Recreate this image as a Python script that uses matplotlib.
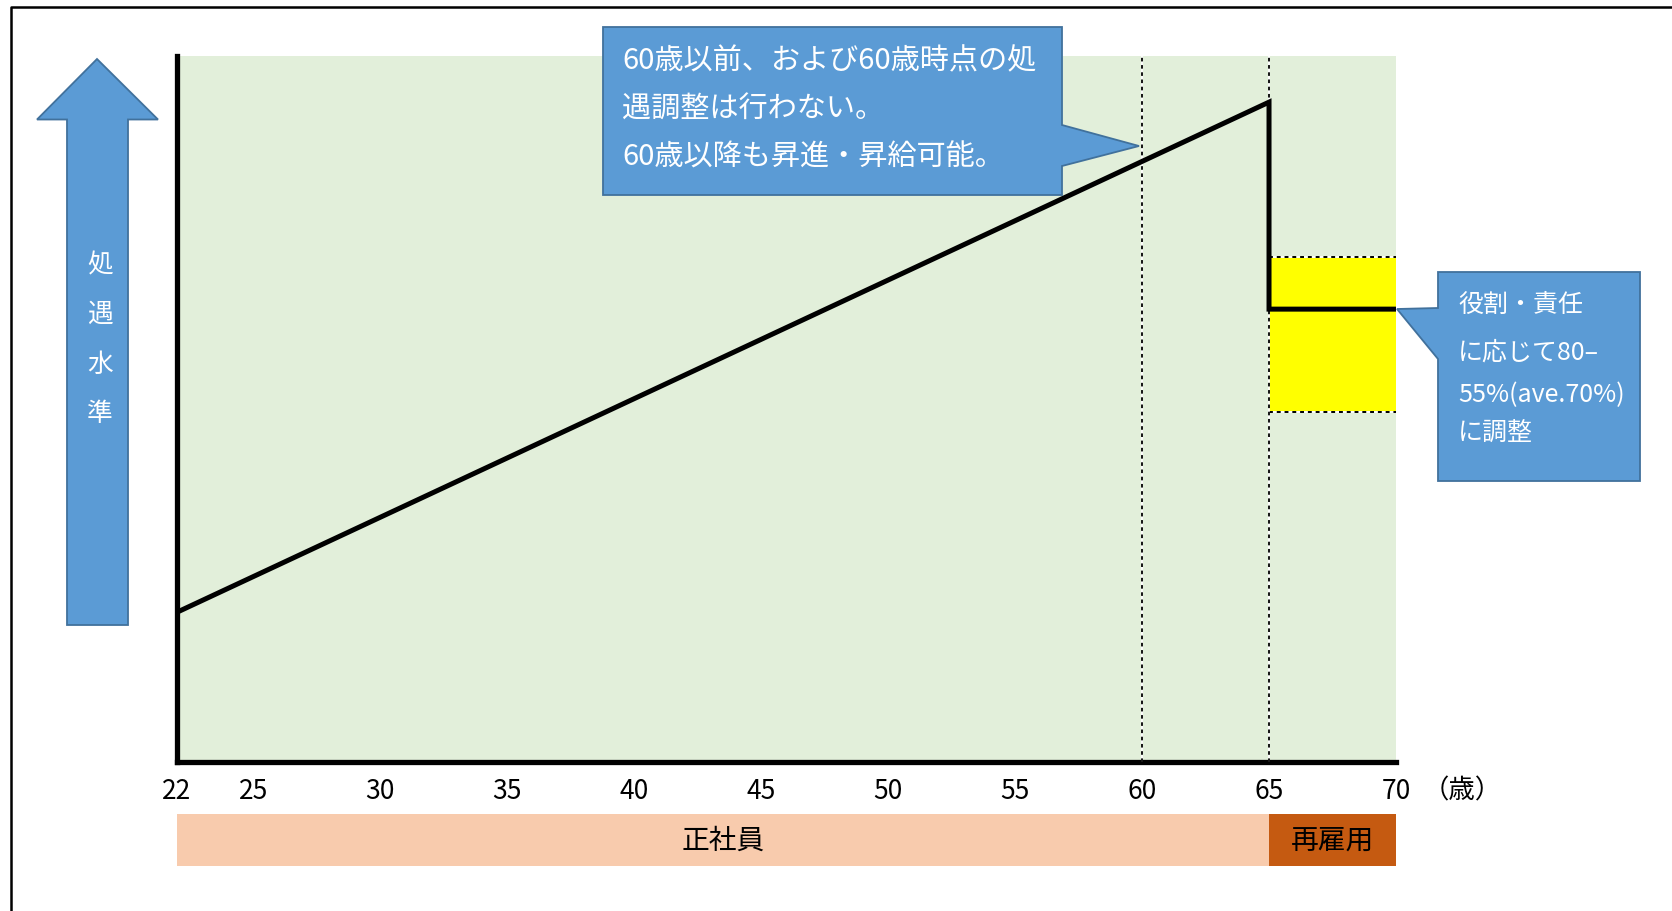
import matplotlib
matplotlib.use("Agg")
import matplotlib.pyplot as plt
from matplotlib.patches import Polygon, Rectangle

plt.rcParams['font.family'] = ['Noto Sans CJK JP', 'DejaVu Sans']

# ---- data ----
ages = [22, 65, 65, 70]
level = [21.2, 93.4, 64.1, 64.1]
band_low, band_high = 49.6, 71.5
band_ages = [65, 70]
marker_ages = [60, 65]
tick_ages = [22, 25, 30, 35, 40, 45, 50, 55, 60, 65, 70]
tick_labels = [str(a) for a in tick_ages]
seg_labels = ['正社員', '再雇用']
seg_start = [22, 65]
seg_end = [65, 70]
seg_colors = ['#F8CBAD', '#C55A11']
callout1 = ['60歳以前、および60歳時点の処', '遇調整は行わない。', '60歳以降も昇進・昇給可能。']
callout2 = ['役割・責任', 'に応じて80‒', '55%(ave.70%)', 'に調整']
ylabel_chars = ['処', '遇', '水', '準']

W, H = 1672, 912
fig = plt.figure(figsize=(W / 100, H / 100), dpi=100)
fig.patch.set_facecolor('white')

def fx(px):
    return px / W

def fy(py):
    return 1 - py / H

# main axes
left, right, top, bottom = 177, 1396, 56.5, 763
ax = fig.add_axes([fx(left), fy(bottom), (right - left) / W, (bottom - top) / H])
ax.set_facecolor('#E2EFDA')
ax.set_xlim(22, 70)
ax.set_ylim(0, 100)
for s in ['top', 'right']:
    ax.spines[s].set_visible(False)
for s in ['left', 'bottom']:
    ax.spines[s].set_linewidth(3.8)
    ax.spines[s].set_color('black')
ax.set_yticks([])
ax.set_xticks(tick_ages)
ax.set_xticklabels(tick_labels, fontsize=19)
ax.tick_params(axis='x', length=0, pad=10.5, colors='black')

# band
ax.add_patch(Rectangle((band_ages[0], band_low), band_ages[1] - band_ages[0],
                       band_high - band_low, facecolor='#FFFF00', edgecolor='none', zorder=2))
for yb in [band_low, band_high]:
    ax.plot(band_ages, [yb, yb], color='white', lw=1.4, zorder=3)
    ax.plot(band_ages, [yb, yb], color='black', lw=1.4, ls=(0, (2, 2)), zorder=3)

# marker lines
for m in marker_ages:
    ax.axvline(m, color='white', lw=1.3, zorder=3)
    ax.axvline(m, color='black', lw=1.3, ls=(0, (2, 2)), zorder=3)

# salary line
ax.plot(ages, level, color='black', lw=3.6, zorder=4, solid_joinstyle='miter')

# bottom segment bar
axb = fig.add_axes([fx(left), fy(867), (right - left) / W, 52 / H], sharex=ax)
axb.set_ylim(0, 1)
axb.axis('off')
for lab, s0, s1, c in zip(seg_labels, seg_start, seg_end, seg_colors):
    axb.add_patch(Rectangle((s0, 0), s1 - s0, 1, facecolor=c, edgecolor='none'))
    axb.text((s0 + s1) / 2, 0.5, lab, ha='center', va='center', fontsize=20, color='black')

# overlay in pixel coords
ov = fig.add_axes([0, 0, 1, 1])
ov.set_xlim(0, W)
ov.set_ylim(H, 0)
ov.axis('off')
ov.patch.set_alpha(0)

# outer border
ov.plot([11, 11, W + 5], [H + 5, 7.5, 7.5], color='black', lw=1.8)

# unit label
ov.text(1462, 791, '（歳）', ha='center', va='center', fontsize=19, color='black')

blue = '#5B9BD5'
edge = '#41719C'
# arrow
arrow = [(67, 626), (67, 120.5), (37, 120.5), (97, 60), (158, 120.5), (128, 120.5), (128, 626)]
ov.add_patch(Polygon(arrow, closed=True, facecolor=blue, edgecolor=edge, lw=1.3))
for ch, yy in zip(ylabel_chars, [265, 315, 365, 414]):
    ov.text(100, yy, ch, ha='center', va='center', fontsize=18.5, color='white')

# callout 1
c1 = [(603, 28), (1062, 28), (1062, 126), (1139, 147), (1062, 167), (1062, 196), (603, 196)]
ov.add_patch(Polygon(c1, closed=True, facecolor=blue, edgecolor=edge, lw=1.3))
for t, yy in zip(callout1, [61, 110, 158]):
    ov.text(622, yy, t, ha='left', va='center', fontsize=21, color='white')

# callout 2
c2 = [(1438, 273), (1640, 273), (1640, 482), (1438, 482), (1438, 360), (1397, 310), (1438, 309)]
ov.add_patch(Polygon(c2, closed=True, facecolor=blue, edgecolor=edge, lw=1.3))
for t, yy in zip(callout2, [305, 353, 395, 433]):
    ov.text(1458, yy, t, ha='left', va='center', fontsize=18, color='white')

fig.savefig('out.png', dpi=100)
